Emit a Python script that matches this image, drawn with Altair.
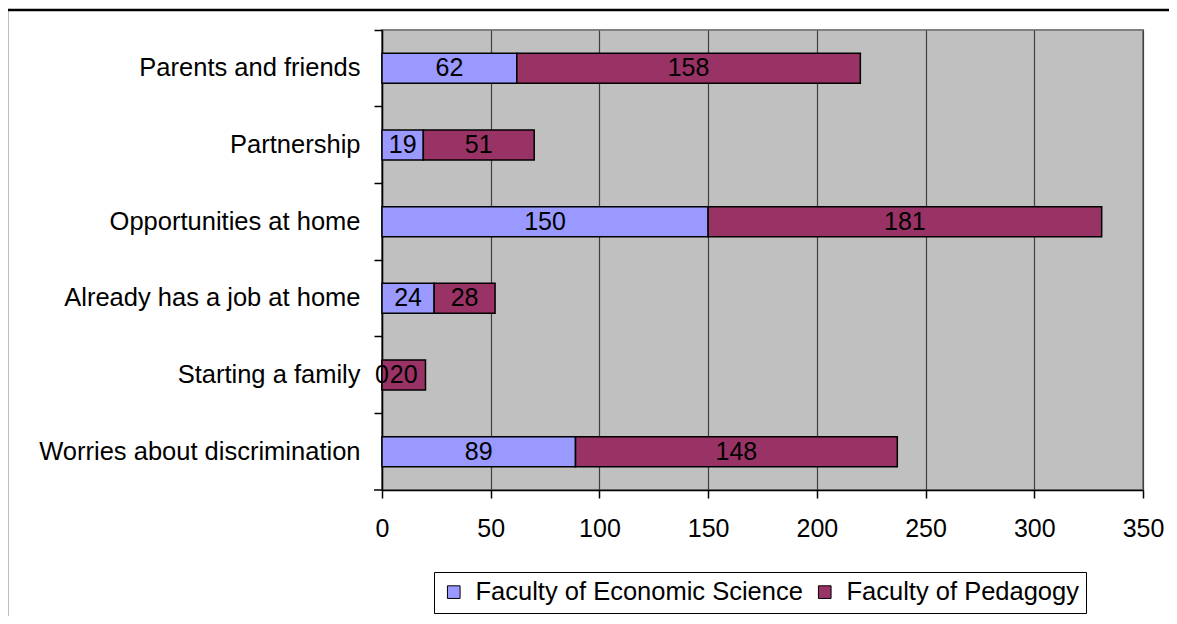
import altair as alt
import pandas as pd

categories = ["Parents and friends", "Partnership", "Opportunities at home",
              "Already has a job at home", "Starting a family", "Worries about discrimination"]
economic = [62, 19, 150, 24, 0, 89]
pedagogy = [158, 51, 181, 28, 20, 148]
series = ["Faculty of Economic Science", "Faculty of Pedagogy"]
x_ticks = [0, 50, 100, 150, 200, 250, 300, 350]

rows = []
for c, e, p in zip(categories, economic, pedagogy):
    rows.append({"cat": c, "series": series[0], "value": e, "start": 0, "end": e, "mid": e / 2})
    rows.append({"cat": c, "series": series[1], "value": p, "start": e, "end": e + p, "mid": e + p / 2})
df = pd.DataFrame(rows)

FONT = "Liberation Sans"
FS = 25

yenc = alt.Y("cat:N", sort=categories, title=None,
             scale=alt.Scale(paddingInner=0, paddingOuter=0),
             axis=alt.Axis(bandPosition=0, labelFontSize=25.5, labelFont=FONT, labelColor="black",
                           tickColor="black", tickSize=8, tickWidth=1.5, domainColor="black",
                           domainWidth=1.5, labelPadding=14, grid=False, labelLimit=500))

xscale = alt.Scale(domain=[0, 350], nice=False)

bars = alt.Chart(df).mark_bar(size=30, stroke="black", strokeWidth=1.5).encode(
    x=alt.X("start:Q", scale=xscale, title=None,
            axis=alt.Axis(values=x_ticks, labelFontSize=FS, labelFont=FONT, labelColor="black",
                          tickColor="black", tickSize=8, tickWidth=1.5, domainColor="black",
                          domainWidth=1.5, labelPadding=18, grid=True, gridColor="#404040",
                          gridWidth=1.2, labelFlush=False)),
    x2="end:Q",
    y=yenc,
    color=alt.Color("series:N", sort=series, title=None,
                    scale=alt.Scale(domain=series, range=["#9999FF", "#993366"]),
                    legend=alt.Legend(orient="none", legendX=52, legendY=542, direction="horizontal",
                                      labelFontSize=25.5, labelFont=FONT, labelColor="black",
                                      symbolType="square", symbolSize=160, symbolStrokeColor="black",
                                      symbolStrokeWidth=1, symbolOpacity=1, strokeColor="black",
                                      fillColor="white", padding=7, columnPadding=9,
                                      labelOffset=9, labelLimit=500)),
)

labels = alt.Chart(df).mark_text(fontSize=FS, font=FONT, color="black").encode(
    x=alt.X("mid:Q", scale=xscale),
    y=alt.Y("cat:N", sort=categories),
    text="value:Q",
)

border = alt.Chart(pd.DataFrame({"a": [0]})).mark_rect(
    filled=False, stroke="black", strokeWidth=2.5).encode(
    x=alt.value(-375), x2=alt.value(800), y=alt.value(-20), y2=alt.value(620))

bottom_tick = alt.Chart(pd.DataFrame({"a": [0]})).mark_rule(color="black", strokeWidth=1.5).encode(
    x=alt.value(-8), x2=alt.value(0), y=alt.value(460))

chart = alt.layer(border, bars, labels, bottom_tick).properties(
    width=761, height=460,
    background="white",
    autosize=alt.AutoSizeParams(type="none"),
    padding={"left": 374, "top": 22, "right": 26, "bottom": 126},
).configure_view(fill="#C0C0C0", stroke="#808080", strokeWidth=2)

chart.save("out.html", embed_options={"renderer": "svg", "actions": False})
